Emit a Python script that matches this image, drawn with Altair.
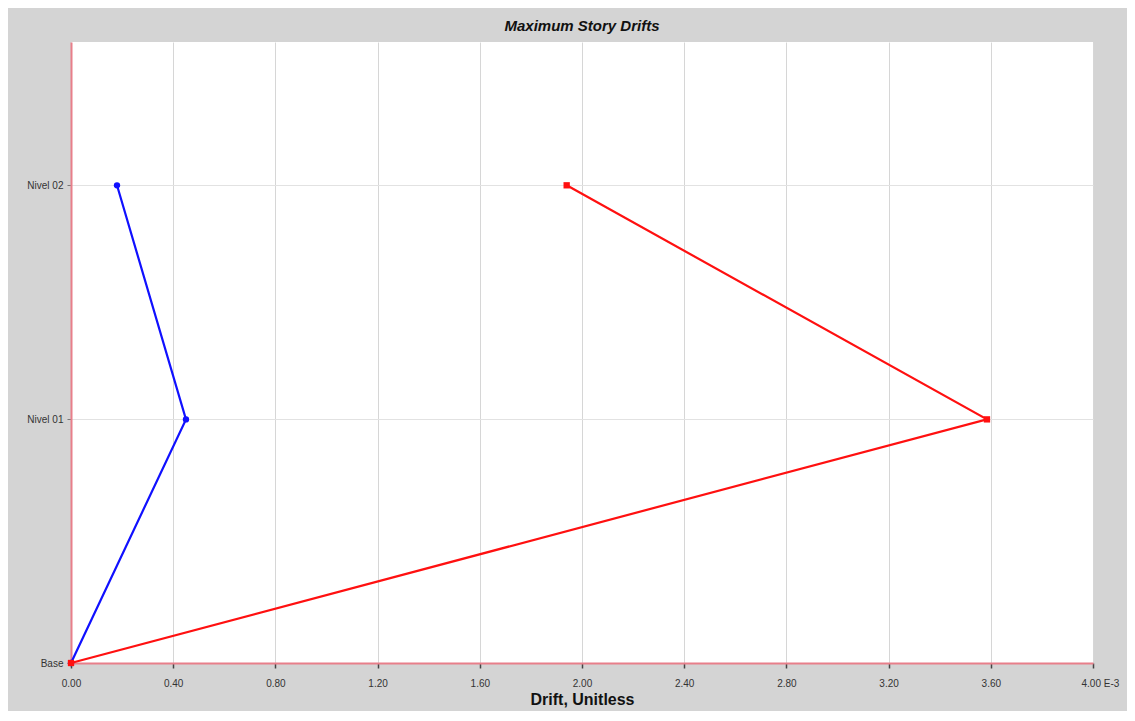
import altair as alt
import pandas as pd

# ---- data (drift values in E-3 units) ----
stories = ["Base", "Nivel 01", "Nivel 02"]
elevations = [0.0, 3.06, 6.0]
drift_blue = [0.0, 0.45, 0.18]
drift_red = [0.0, 3.585, 1.94]
series_names = ["Blue", "Red"]
series_colors = ["#1010ff", "#ff1010"]
x_ticks = [0.0, 0.4, 0.8, 1.2, 1.6, 2.0, 2.4, 2.8, 3.2, 3.6, 4.0]

rows = []
for name, vals in zip(series_names, [drift_blue, drift_red]):
    for st, el, v in zip(stories, elevations, vals):
        rows.append({"series": name, "story": st, "elev": el, "drift": v})
df = pd.DataFrame(rows)

label_expr = "datum.value == 0 ? 'Base' : (datum.value < 4 ? 'Nivel 01' : 'Nivel 02')"

x_enc = alt.X(
    "drift:Q",
    scale=alt.Scale(domain=[0, 4], nice=False),
    axis=alt.Axis(
        values=x_ticks,
        labelExpr="datum.value == 4 ? '4.00 E-3' : format(datum.value, '.2f')",
        labelAlign={"condition": {"test": "datum.value == 4", "value": "left"}, "value": "center"},
        labelOffset={"condition": {"test": "datum.value == 4", "value": -12}, "value": 0},
        grid=True, gridColor="#d6d6d6", gridWidth=1,
        domainColor="#e87f8a", domainWidth=2,
        tickColor="#444444", tickSize=5, tickWidth=1.5,
        labelFont="Liberation Sans", labelFontSize=10, labelColor="#333333",
        labelPadding=10,
        title="Drift, Unitless", titleFont="Liberation Sans", titleFontSize=16,
        titleFontWeight="bold", titleColor="#111111", titlePadding=3,
    ),
)
y_enc = alt.Y(
    "elev:Q",
    scale=alt.Scale(domain=[0, 7.8], nice=False),
    axis=alt.Axis(
        values=elevations,
        labelExpr=label_expr,
        grid=True, gridColor="#e2e2e2", gridWidth=1,
        domainColor="#e87f8a", domainWidth=2,
        tickColor="#777777", tickSize=4,
        labelFont="Liberation Sans", labelFontSize=10, labelColor="#333333",
        labelPadding=4, title=None,
    ),
)
color_enc = alt.Color("series:N", scale=alt.Scale(domain=series_names, range=series_colors), legend=None)

base = alt.Chart(df).encode(x=x_enc, y=y_enc, color=color_enc, order=alt.Order("elev:Q"))

lines = base.mark_line(strokeWidth=2.2)
pts_blue = base.transform_filter("datum.series == 'Blue'").mark_point(shape="circle", filled=True, size=40, opacity=1)
pts_red = base.transform_filter("datum.series == 'Red'").mark_point(shape="square", filled=True, size=40, opacity=1)

chart = (
    alt.layer(lines, pts_blue, pts_red)
    .properties(
        width=1022,
        height=621,
        autosize=alt.AutoSizeParams(type="none"),
        padding={"left": 63, "top": 34, "right": 34, "bottom": 48},
        title=alt.TitleParams(
            "Maximum Story Drifts", font="Liberation Sans", fontSize=15,
            fontStyle="italic", fontWeight="bold", color="#111111",
            anchor="middle", offset=8,
        ),
        background="#d4d4d4",
    )
    .configure_view(fill="white", stroke=None)
)

chart.save("out.html", embed_options={"renderer": "svg", "actions": False})
